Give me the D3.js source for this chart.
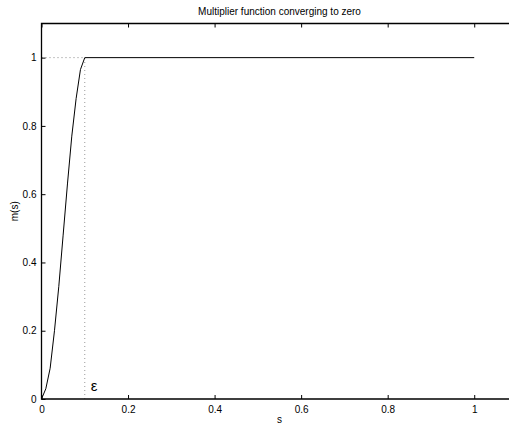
<!DOCTYPE html>
<html>
<head>
<meta charset="utf-8">
<script src="https://cdn.jsdelivr.net/npm/d3@7"></script>
<style>
  body { margin: 0; background: #fff; }
  svg { display: block; font-family: "Liberation Sans", Arial, sans-serif; }
</style>
</head>
<body>
<div id="chart"></div>
<script>
const width = 509,
    height = 425;

// area dell'asse (il bordo destro esce dalla finestra)
const margin = { top: 23.5, left: 41.5, bottom: 26 };

const titleText = "Multiplier function converging to zero";
const xLabel = "s";
const yLabel = "m(s)";

const sValues = [0, 0.01, 0.02, 0.03, 0.04, 0.05, 0.06, 0.07, 0.08, 0.09, 0.1, 1];
const mValues = [0, 0.03, 0.09, 0.2, 0.33, 0.48, 0.63, 0.77, 0.88, 0.965, 1, 1];

const epsilon = 0.1;
const xTicks = [0, 0.2, 0.4, 0.6, 0.8, 1];
const yTicks = [0, 0.2, 0.4, 0.6, 0.8, 1];

const x = d3.scaleLinear().domain([0, 1.1]).range([margin.left, margin.left + 476]);
const y = d3.scaleLinear().domain([0, 1.1]).range([height - margin.bottom, margin.top]);

const svg = d3.select("#chart")
    .append("svg")
    .attr("width", width)
    .attr("height", height);

// linee tratteggiate per epsilon
svg.append("line")
    .attr("x1", x(0)).attr("x2", x(epsilon))
    .attr("y1", y(1)).attr("y2", y(1))
    .attr("stroke", "#888")
    .attr("stroke-dasharray", "1,3");

svg.append("line")
    .attr("x1", x(epsilon)).attr("x2", x(epsilon))
    .attr("y1", y(0)).attr("y2", y(1))
    .attr("stroke", "#999")
    .attr("stroke-dasharray", "1,3");

const line = d3.line()
    .x((d, i) => x(sValues[i]))
    .y(d => y(d));

svg.append("path")
    .datum(mValues)
    .attr("d", line)
    .attr("fill", "none")
    .attr("stroke", "#000")
    .attr("stroke-width", 1);

// assi
const xAxis = svg.append("g")
    .attr("transform", `translate(0, ${y(0)})`)
    .call(d3.axisTop(x).tickValues(xTicks).tickSize(4).tickFormat(""));
const xLabels = svg.append("g")
    .attr("transform", `translate(0, ${y(0)})`)
    .call(d3.axisBottom(x).tickValues(xTicks).tickSize(0).tickPadding(7).tickFormat(d3.format("")));

const xTop = svg.append("g")
    .attr("transform", `translate(0, ${y(1.1)})`)
    .call(d3.axisBottom(x).tickValues(xTicks).tickSize(4).tickFormat(""));

const yAxis = svg.append("g")
    .attr("transform", `translate(${x(0)}, 0)`)
    .call(d3.axisRight(y).tickValues(yTicks).tickSize(4).tickFormat(""));
const yLabels = svg.append("g")
    .attr("transform", `translate(${x(0)}, 0)`)
    .call(d3.axisLeft(y).tickValues(yTicks).tickSize(0).tickPadding(5).tickFormat(d3.format("")));

svg.selectAll(".domain").remove();
svg.selectAll(".tick line").attr("stroke", "#000");
svg.selectAll(".tick text")
    .attr("fill", "#000")
    .style("font-size", "10px");

// bordo del riquadro
svg.append("path")
    .attr("d", `M${x(1.1)},${y(1.1)}H${x(0)}V${y(0)}H${x(1.1)}`)
    .attr("fill", "none")
    .attr("stroke", "#000")
    .attr("stroke-width", 1.3);

svg.append("text")
    .text(titleText)
    .attr("x", x(0.55))
    .attr("y", 15)
    .attr("text-anchor", "middle")
    .style("font-size", "10px");

svg.append("text")
    .text(xLabel)
    .attr("x", x(0.55))
    .attr("y", 423)
    .attr("text-anchor", "middle")
    .style("font-size", "10px");

svg.append("text")
    .text(yLabel)
    .attr("transform", `translate(18, ${y(0.55)}) rotate(-90)`)
    .attr("text-anchor", "middle")
    .style("font-size", "10px");

svg.append("text")
    .text("ε")
    .attr("x", x(epsilon) + 6)
    .attr("y", 391)
    .style("font-size", "15px");
</script>
</body>
</html>
